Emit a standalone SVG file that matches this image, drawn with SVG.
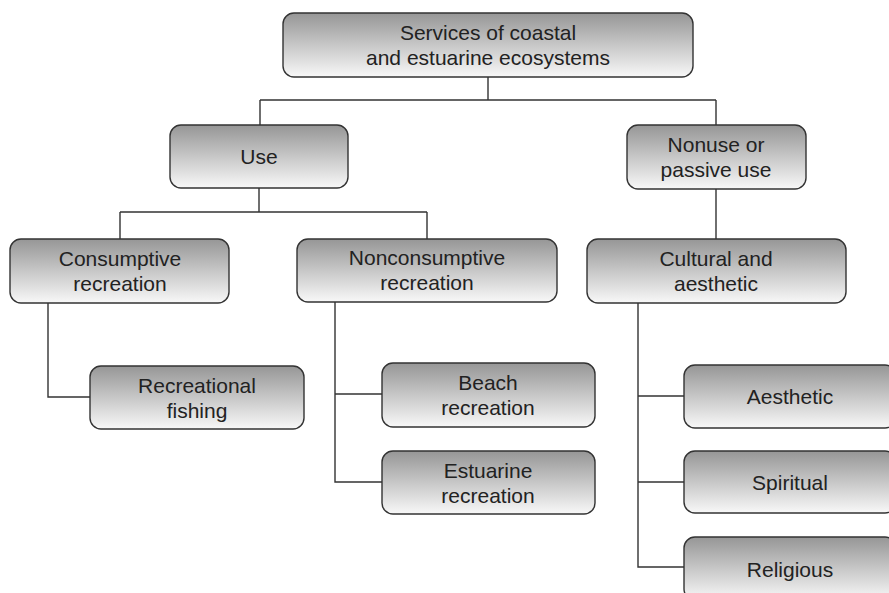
<svg xmlns="http://www.w3.org/2000/svg" width="889" height="593" viewBox="0 0 889 593">
<defs>
<linearGradient id="g" x1="0" y1="0" x2="0" y2="1">
<stop offset="0" stop-color="#969696"/>
<stop offset="1" stop-color="#f8f8f8"/>
</linearGradient>
<style>
.box{fill:url(#g);stroke:#333;stroke-width:1.4}
.t{font-family:"Liberation Sans",Arial,sans-serif;font-size:21px;fill:#222;text-anchor:middle}
.c{fill:none;stroke:#333;stroke-width:1.4}
</style>
</defs>
<rect width="889" height="593" fill="#fff"/>
<g id="connectors" class="c">
<path d="M488 77V100M260 100H716M260 100V125M716 100V125"/>
<path d="M259 188V212M120 212H427M120 212V239M427 212V239"/>
<path d="M716 189V239"/>
<path d="M48 303V397H90"/>
<path d="M335 302V482H382M335 394H382"/>
<path d="M638 303V567H684M638 396H684M638 482H684"/>
</g>
<g id="root"><rect class="box" x="283" y="13" width="410" height="64" rx="11"/><text class="t" x="488" y="40">Services of coastal</text><text class="t" x="488" y="65">and estuarine ecosystems</text></g>
<g id="use"><rect class="box" x="170" y="125" width="178" height="63" rx="11"/><text class="t" x="259" y="164">Use</text></g>
<g id="nonuse"><rect class="box" x="627" y="125" width="179" height="64" rx="11"/><text class="t" x="716" y="152">Nonuse or</text><text class="t" x="716" y="177">passive use</text></g>
<g id="consumptive"><rect class="box" x="10" y="239" width="219" height="64" rx="11"/><text class="t" x="120" y="266">Consumptive</text><text class="t" x="120" y="291">recreation</text></g>
<g id="nonconsumptive"><rect class="box" x="297" y="239" width="260" height="63" rx="11"/><text class="t" x="427" y="265">Nonconsumptive</text><text class="t" x="427" y="290">recreation</text></g>
<g id="cultural"><rect class="box" x="587" y="239" width="259" height="64" rx="11"/><text class="t" x="716" y="266">Cultural and</text><text class="t" x="716" y="291">aesthetic</text></g>
<g id="fishing"><rect class="box" x="90" y="366" width="214" height="63" rx="11"/><text class="t" x="197" y="393">Recreational</text><text class="t" x="197" y="418">fishing</text></g>
<g id="beach"><rect class="box" x="382" y="363" width="213" height="64" rx="11"/><text class="t" x="488" y="390">Beach</text><text class="t" x="488" y="415">recreation</text></g>
<g id="estuarine"><rect class="box" x="382" y="451" width="213" height="63" rx="11"/><text class="t" x="488" y="478">Estuarine</text><text class="t" x="488" y="503">recreation</text></g>
<g id="aesthetic"><rect class="box" x="684" y="365" width="212" height="63" rx="11"/><text class="t" x="790" y="404">Aesthetic</text></g>
<g id="spiritual"><rect class="box" x="684" y="451" width="212" height="62" rx="11"/><text class="t" x="790" y="490">Spiritual</text></g>
<g id="religious"><rect class="box" x="684" y="537" width="212" height="63" rx="11"/><text class="t" x="790" y="577">Religious</text></g>
</svg>
